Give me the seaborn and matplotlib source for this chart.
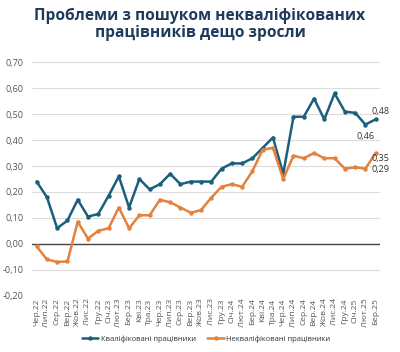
import matplotlib.pyplot as plt
import matplotlib.ticker as mticker
import pandas as pd
import seaborn as sns

# Дані
months = ['Чер.22', 'Лип.22', 'Сер.22', 'Вер.22', 'Жов.22', 'Лис.22', 'Гру.22',
          'Січ.23', 'Лют.23', 'Бер.23', 'Кві.23', 'Тра.23', 'Чер.23', 'Лип.23',
          'Сер.23', 'Вер.23', 'Жов.23', 'Лис.23', 'Гру.23', 'Січ.24', 'Лют.24',
          'Бер.24', 'Кві.24', 'Тра.24', 'Чер.24', 'Лип.24', 'Сер.24', 'Вер.24',
          'Жов.24', 'Лис.24', 'Гру.24', 'Січ.25', 'Лют.25', 'Бер.25']
skilled = [0.24, 0.18, 0.06, 0.09, 0.17, 0.105, 0.115, 0.185, 0.26, 0.14,
           0.25, 0.21, 0.23, 0.27, 0.23, 0.24, 0.24, 0.24, 0.29, 0.31,
           0.31, 0.33, 0.37, 0.41, 0.27, 0.49, 0.49, 0.56, 0.48, 0.58,
           0.51, 0.505, 0.46, 0.48]
unskilled = [-0.01, -0.06, -0.07, -0.068, 0.085, 0.02, 0.05, 0.06, 0.14, 0.06,
             0.11, 0.11, 0.17, 0.16, 0.14, 0.12, 0.13, 0.178, 0.22, 0.23,
             0.22, 0.28, 0.363, 0.37, 0.25, 0.34, 0.33, 0.35, 0.33, 0.33,
             0.29, 0.295, 0.29, 0.35]
series_names = ['Кваліфіковані працівники', 'Некваліфіковані працівники']

data = pd.DataFrame({
    'x': list(range(len(months))) * 2,
    'value': skilled + unskilled,
    'series': [series_names[0]] * len(months) + [series_names[1]] * len(months),
})

sns.set_theme(style='white')
plt.rcParams['font.family'] = ['Open Sans', 'DejaVu Sans']

blue = '#1b5f7c'
orange = '#e5813c'
grey = '#555555'

fig = plt.figure(figsize=(4.0, 3.52), dpi=100)
ax = fig.add_axes([0.08, 0.16, 0.87, 0.663])

sns.lineplot(data=data, x='x', y='value', hue='series', hue_order=series_names,
             palette=[blue, orange], marker='o', markersize=3.2, markeredgewidth=0,
             linewidth=1.8, ax=ax)

ax.set_xlim(-0.45, 33.42)
ax.set_ylim(-0.2, 0.7)
ax.yaxis.set_major_locator(mticker.MultipleLocator(0.1))
ax.yaxis.set_major_formatter(mticker.FuncFormatter(lambda v, p: f'{v:.2f}'.replace('.', ',')))
ax.set_xticks(range(len(months)))
ax.set_xticklabels(months, rotation=90, fontsize=6, color=grey)
ax.tick_params(axis='y', labelsize=6.5, labelcolor=grey, length=0, pad=6)
ax.tick_params(axis='x', length=0, pad=2)
ax.grid(axis='y', color='#dddddd', linewidth=0.8)
ax.axhline(0, color='#444444', linewidth=1.0, zorder=1)
for s in ax.spines.values():
    s.set_visible(False)
ax.set_xlabel('')
ax.set_ylabel('')

# Підписи останніх значень
n = len(months) - 1
ax.text(n - 0.4, skilled[n] + 0.03, f'{skilled[n]:.2f}'.replace('.', ','), fontsize=6.5, color='#333333', ha='left', va='center')
ax.text(n - 1, skilled[n - 1] - 0.045, f'{skilled[n - 1]:.2f}'.replace('.', ','), fontsize=6.5, color='#333333', ha='center', va='center')
ax.text(n - 0.4, unskilled[n] - 0.022, f'{unskilled[n]:.2f}'.replace('.', ','), fontsize=6.5, color='#333333', ha='left', va='center')
ax.text(n - 0.4, unskilled[n] - 0.065, f'{unskilled[n - 1]:.2f}'.replace('.', ','), fontsize=6.5, color='#333333', ha='left', va='center')

ax.legend(loc='upper center', bbox_to_anchor=(0.5, -0.14), ncol=2, frameon=False,
          fontsize=5.5, handlelength=2.2, handletextpad=0.3, columnspacing=1.5,
          labelcolor='#333333')

fig.text(0.5, 0.978, 'Проблеми з пошуком некваліфікованих\nпрацівників дещо зросли',
         ha='center', va='top', fontsize=11.2, fontweight='bold', color='#1f3a5c',
         linespacing=1.1)

fig.savefig('out.png', dpi=100)
